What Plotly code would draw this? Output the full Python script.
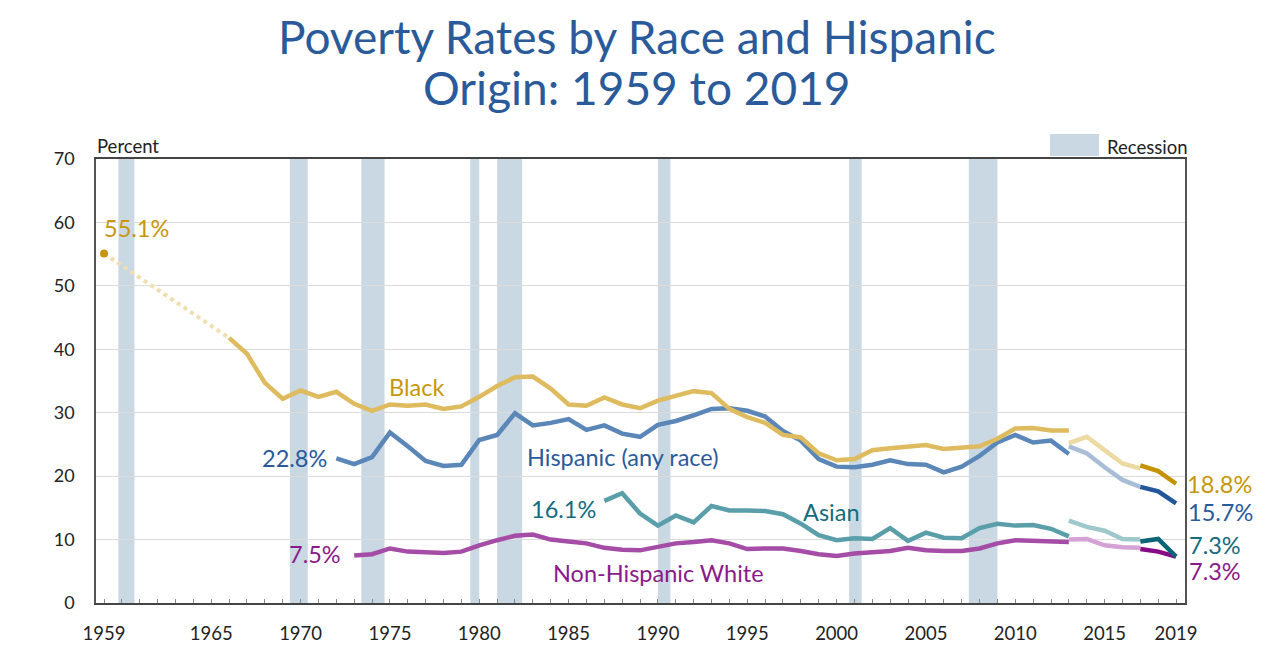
import plotly.graph_objects as go

# ---------------- data ----------------
black_1959_year = 1959
black_1959 = 55.1
black_gap_years = [1959, 1966]

black_years = list(range(1966, 2014))
black = [41.8, 39.3, 34.7, 32.2, 33.5, 32.5, 33.3, 31.4, 30.3, 31.3,
         31.1, 31.3, 30.6, 31.0, 32.5, 34.2, 35.6, 35.7, 33.8, 31.3,
         31.1, 32.4, 31.3, 30.7, 31.9, 32.7, 33.4, 33.1, 30.6, 29.3,
         28.4, 26.5, 26.1, 23.6, 22.5, 22.7, 24.1, 24.4, 24.7, 24.9,
         24.3, 24.5, 24.7, 25.9, 27.5, 27.6, 27.2, 27.2]

hisp_years = list(range(1972, 2014))
hisp = [22.8, 21.9, 23.0, 26.9, 24.7, 22.4, 21.6, 21.8, 25.7, 26.5,
        29.9, 28.0, 28.4, 29.0, 27.3, 28.0, 26.7, 26.2, 28.1, 28.7,
        29.6, 30.6, 30.7, 30.3, 29.4, 27.1, 25.6, 22.7, 21.5, 21.4,
        21.8, 22.5, 21.9, 21.8, 20.6, 21.5, 23.2, 25.3, 26.5, 25.3,
        25.6, 23.5]

asian_years = list(range(1987, 2014))
asian = [16.1, 17.3, 14.1, 12.2, 13.8, 12.7, 15.3, 14.6, 14.6, 14.5,
         14.0, 12.5, 10.7, 9.9, 10.2, 10.1, 11.8, 9.8, 11.1, 10.3,
         10.2, 11.8, 12.5, 12.2, 12.3, 11.7, 10.5]

white_years = list(range(1973, 2014))
white = [7.5, 7.7, 8.6, 8.1, 8.0, 7.9, 8.1, 9.1, 9.9, 10.6,
         10.8, 10.0, 9.7, 9.4, 8.7, 8.4, 8.3, 8.8, 9.4, 9.6,
         9.9, 9.4, 8.5, 8.6, 8.6, 8.2, 7.7, 7.4, 7.8, 8.0,
         8.2, 8.7, 8.3, 8.2, 8.2, 8.6, 9.4, 9.9, 9.8, 9.7, 9.6]

# 2013-2017 (redesigned questionnaire)
mid_years = [2013, 2014, 2015, 2016, 2017]
black_mid = [25.2, 26.2, 24.1, 22.0, 21.2]
hisp_mid = [24.7, 23.6, 21.4, 19.4, 18.3]
asian_mid = [13.0, 12.0, 11.4, 10.1, 10.0]
white_mid = [10.0, 10.1, 9.1, 8.8, 8.7]

# 2017-2019 (updated processing system)
new_years = [2017, 2018, 2019]
black_new = [21.7, 20.8, 18.8]
hisp_new = [18.3, 17.6, 15.7]
asian_new = [9.7, 10.1, 7.3]
white_new = [8.5, 8.1, 7.3]

# recession periods (as placed on this annual axis)
rec_start = [1959.8, 1969.4, 1973.4, 1979.5, 1981.0, 1990.0, 2000.7, 2007.4]
rec_end = [1960.7, 1970.4, 1974.7, 1980.0, 1982.4, 1990.7, 2001.4, 2009.0]

tick_years = [1959, 1965, 1970, 1975, 1980, 1985, 1990, 1995, 2000, 2005, 2010, 2015, 2019]
y_ticks = [0, 10, 20, 30, 40, 50, 60, 70]

title_lines = ["Poverty Rates by Race and Hispanic", "Origin: 1959 to 2019"]

# ---------------- styles ----------------
FONT = "Lato"
C_BLACK = ["#dfbb5f", "#eddaa2", "#c59300"]
C_HISP = ["#5b86b8", "#a9bdd7", "#21579a"]
C_ASIAN = ["#5a9eaa", "#9fc8cd", "#0c6479"]
C_WHITE = ["#a44ca6", "#d4a2d4", "#870a87"]
T_BLACK = "#c8960a"
T_HISP = "#2a5a9a"
T_ASIAN = "#156b7d"
T_WHITE = "#8a1a8a"
REC = "#c9d8e2"
LW = 4.5
L, R, T, B = 96, 95, 159, 58
PW, PH = 1280 - L - R, 661 - T - B


def px_x(p):
    return (p - L) / PW


def px_y(p):
    return (661 - B - p) / PH


fig = go.Figure()

# dotted gap line and 1959 dot
fig.add_trace(go.Scatter(x=black_gap_years, y=[black_1959, black[0]], mode="lines",
                         line=dict(color="#efdfb0", width=4, dash="dot"),
                         hoverinfo="skip", showlegend=False))
fig.add_trace(go.Scatter(x=[black_1959_year], y=[black_1959], mode="markers",
                         marker=dict(color=T_BLACK, size=8), showlegend=False))


def add_series(xs, ys, color):
    fig.add_trace(go.Scatter(x=xs, y=ys, mode="lines",
                             line=dict(color=color, width=LW),
                             showlegend=False))


for (yrs, vals), (myrs, mvals), (nyrs, nvals), cols in [
    ((white_years, white), (mid_years, white_mid), (new_years, white_new), C_WHITE),
    ((asian_years, asian), (mid_years, asian_mid), (new_years, asian_new), C_ASIAN),
    ((hisp_years, hisp), (mid_years, hisp_mid), (new_years, hisp_new), C_HISP),
    ((black_years, black), (mid_years, black_mid), (new_years, black_new), C_BLACK),
]:
    add_series(yrs, vals, cols[0])
    add_series(myrs, mvals, cols[1])
    add_series(nyrs, nvals, cols[2])

# recession bands
shapes = []
for s, e in zip(rec_start, rec_end):
    shapes.append(dict(type="rect", xref="x", yref="y", x0=s, x1=e, y0=0, y1=70,
                       fillcolor=REC, line=dict(width=0), layer="below"))
# recession legend swatch
shapes.append(dict(type="rect", xref="paper", yref="paper",
                   x0=px_x(1050), x1=px_x(1099), y0=px_y(156), y1=px_y(134),
                   fillcolor=REC, line=dict(width=0)))

ann = []


def label(x, y, text, color, size, xanchor="center", xshift=0, yshift=0):
    ann.append(dict(x=x, y=y, xref="x", yref="y", text=text, showarrow=False,
                    font=dict(family=FONT, size=size, color=color),
                    xanchor=xanchor, yanchor="middle", xshift=xshift, yshift=yshift))


VS = 23.5
label(black_1959_year, black_1959, f"{black_1959}%", T_BLACK, VS, "left", -2, 26)
label(hisp_years[0], hisp[0], f"{hisp[0]}%", T_HISP, VS, "right", -7, 0)
label(asian_years[0], asian[0], f"{asian[0]}%", T_ASIAN, VS, "right", -6, -8)
label(white_years[0], white[0], f"{white[0]}%", T_WHITE, VS, "right", -11, 1)

label(new_years[-1], black_new[-1], f"{black_new[-1]}%", T_BLACK, VS, "left", 9, 0)
label(new_years[-1], hisp_new[-1], f"{hisp_new[-1]}%", T_HISP, VS, "left", 10, -9)
label(new_years[-1], asian_new[-1], f"{asian_new[-1]}%", T_ASIAN, VS, "left", 11, 12)
label(new_years[-1], white_new[-1], f"{white_new[-1]}%", T_WHITE, VS, "left", 11, -14)

NS = 23.5
label(1976.5, 34.0, "Black", T_BLACK, NS)
label(1988.05, 23.0, "Hispanic (any race)", T_HISP, NS)
label(1999.7, 14.3, "Asian", T_ASIAN, NS)
label(1990.05, 4.7, "Non-Hispanic White", T_WHITE, NS)

ann.append(dict(x=px_x(95), y=px_y(146), xref="paper", yref="paper", text="Percent",
                showarrow=False, font=dict(family=FONT, size=18.5, color="#222"),
                xanchor="left", yanchor="middle"))
ann.append(dict(x=px_x(1105), y=px_y(147), xref="paper", yref="paper",
                text="Recession", showarrow=False,
                font=dict(family=FONT, size=18.5, color="#222"),
                xanchor="left", yanchor="middle"))

# title as two centered lines
for i, line_txt in enumerate(title_lines):
    ann.append(dict(x=px_x(637), y=px_y(37 + 50 * i), xref="paper", yref="paper",
                    text=line_txt, showarrow=False,
                    font=dict(family=FONT, size=46, color="#2a5a9a"),
                    xanchor="center", yanchor="middle"))

fig.update_layout(
    width=1280, height=661,
    margin=dict(l=L, r=R, t=T, b=B, autoexpand=False),
    paper_bgcolor="white", plot_bgcolor="white",
    font=dict(family=FONT, size=16, color="#222"),
    shapes=shapes,
    annotations=ann,
    showlegend=False,
)

fig.update_xaxes(range=[1958.55, 2019.5], tickmode="array", tickvals=tick_years,
                 ticktext=[str(t) for t in tick_years],
                 showgrid=False, zeroline=False,
                 showline=True, linecolor="#444", linewidth=1.5, mirror=True,
                 ticks="inside", ticklen=4, tickcolor="#888",
                 minor=dict(tickmode="linear", tick0=1959, dtick=1, ticks="inside",
                            ticklen=4, tickcolor="#888", showgrid=False),
                 ticklabelstandoff=13,
                 tickfont=dict(family=FONT, size=18.5, color="#222"))
fig.update_yaxes(range=[0, 70], tickvals=y_ticks, showgrid=True, gridcolor="#dcdcdc",
                 gridwidth=1, zeroline=False,
                 showline=True, linecolor="#555", linewidth=1.5, mirror=True,
                 ticks="", ticklabelstandoff=16,
                 tickfont=dict(family=FONT, size=18, color="#222"))

fig.write_html("out.html", config={"displayModeBar": False},
               post_script="document.body.style.margin='0';")
